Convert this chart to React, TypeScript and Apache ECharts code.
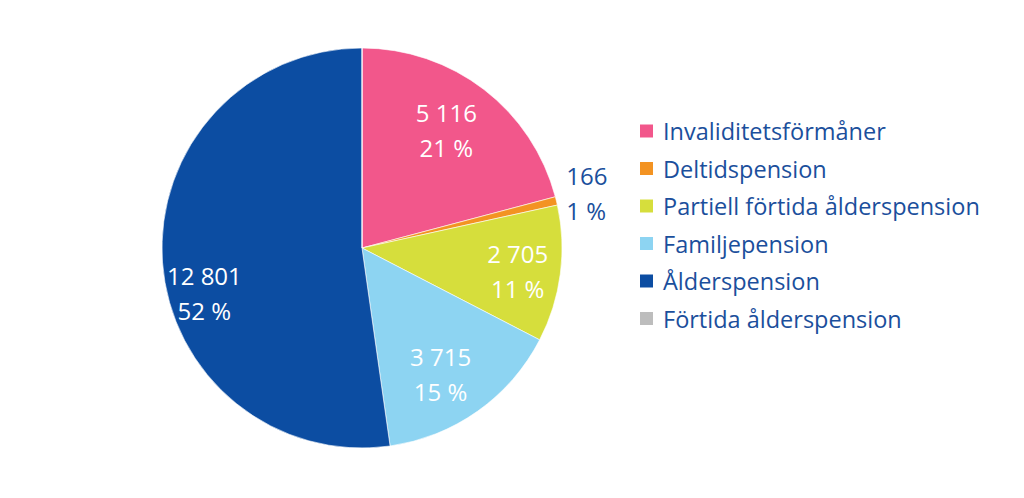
import React, { useEffect, useRef } from "react";
import * as echarts from "echarts";

const categories = [
  "Invaliditetsförmåner",
  "Deltidspension",
  "Partiell förtida ålderspension",
  "Familjepension",
  "Ålderspension",
  "Förtida ålderspension",
];
const values = [5116, 166, 2705, 3715, 12801, 0];
const colors = ["#F2578B", "#F39322", "#D6DE3C", "#8DD4F2", "#0C4DA2", "#BDBDBD"];
const outsideLabel = ["Deltidspension"];
// label nudges (px) to match the reference placement
const labelOffsets = [
  [-9, 3],
  [0, -7],
  [4, 3],
  [-10, 1],
  [-5, 34],
  [0, 0],
];

const fmt = (n: number) => String(n).replace(/\B(?=(\d{3})+(?!\d))/g, " ");

export default function App() {
  const ref = useRef<HTMLDivElement>(null);
  useEffect(() => {
    if (!ref.current) return;
    const chart = echarts.init(ref.current, undefined, { renderer: "svg" });
    const font = "'Open Sans', 'Noto Sans', sans-serif";
    const baseData = categories.map((name, i) => ({
      name,
      value: values[i],
      itemStyle: { color: colors[i] },
    }));
    const labelData = categories.map((name, i) => {
      const outside = outsideLabel.includes(name);
      return {
        name,
        value: values[i],
        itemStyle: { color: "rgba(0,0,0,0)" },
        label: outside
          ? { show: values[i] > 0, position: "outside", color: "#1B4F9C", offset: labelOffsets[i] }
          : { show: values[i] > 0, position: "inside", color: "#FFFFFF", offset: labelOffsets[i] },
        labelLine: { show: false, length: 5, length2: 0 },
      };
    });
    chart.setOption({
      animation: false,
      legend: {
        orient: "vertical",
        left: 633,
        top: 112,
        icon: "rect",
        itemWidth: 15,
        itemHeight: 15,
        itemGap: 9.5,
        data: categories,
        textStyle: {
          fontFamily: font,
          fontSize: 23.5,
          color: "#1B4F9C",
          lineHeight: 28,
          padding: [0, 0, 0, 4],
        },
        selectedMode: false,
      },
      series: [
        {
          type: "pie",
          center: [362, 248],
          radius: [0, 200],
          startAngle: 90,
          clockwise: true,
          data: baseData,
          label: { show: false },
          labelLine: { show: false },
          itemStyle: { borderColor: "#ffffff", borderWidth: 0.6 },
          silent: true,
        },
        {
          type: "pie",
          center: [362, 248],
          radius: [100, 200],
          startAngle: 90,
          clockwise: true,
          data: labelData,
          percentPrecision: 0,
          silent: true,
          label: {
            fontFamily: font,
            fontSize: 24,
            lineHeight: 35,
            formatter: (p: any) => `${fmt(p.value)}\n${Math.round(p.percent)} %`,
          },
          labelLine: { show: false },
          emphasis: { disabled: true },
        },
      ],
    });
    return () => chart.dispose();
  }, []);
  return (
    <div
      ref={ref}
      style={{ position: "absolute", left: 0, top: 0, width: 1024, height: 498, background: "#fff" }}
    />
  );
}
